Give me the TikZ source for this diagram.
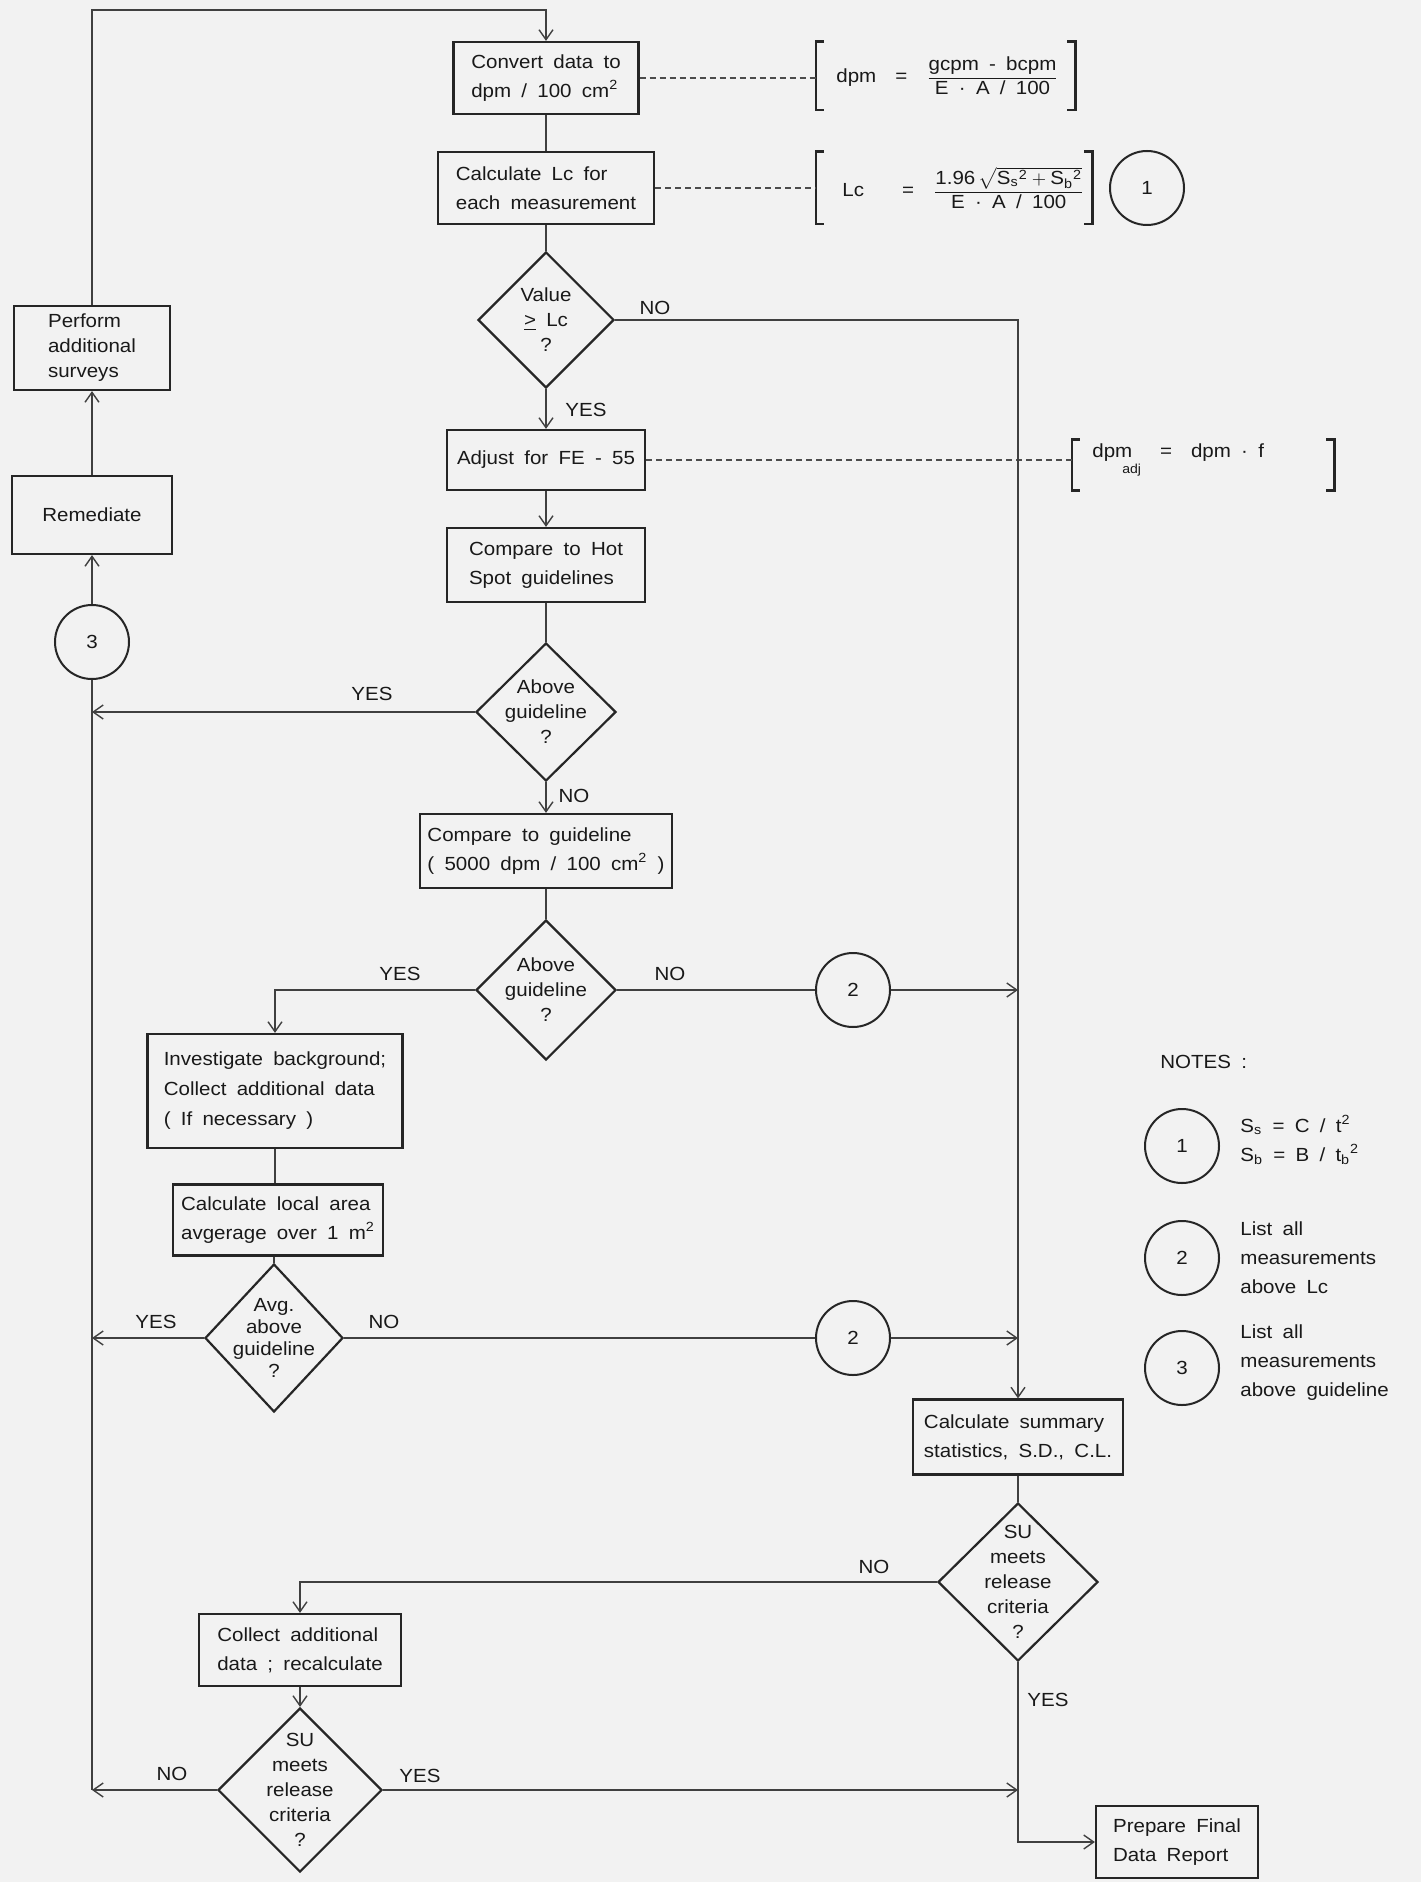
\documentclass[tikz,border=0pt]{standalone}
\usepackage{fontspec}
\usepackage{amsmath}
\setmainfont{Liberation Sans}[FakeStretch=1.08,WordSpace=1.8]
\usetikzlibrary{arrows.meta,shapes.geometric,calc}
\newcommand\bxfnt{\fontsize{9.5}{14.5}\selectfont}
\newcommand\dfnt{\fontsize{9.5}{12.5}\selectfont}
\begin{document}
\begin{tikzpicture}[x=0.5pt,y=-0.5pt,
  box/.style={draw=black!85, line width=1.1pt, align=left, font=\bxfnt, text=black!90, inner sep=3pt},
  dia/.style={draw=black!85, diamond, aspect=1, line width=1.1pt, inner sep=0pt},
  dtxt/.style={align=center, font=\dfnt, text=black!90, inner sep=0pt},
  circ/.style={draw=black!85, circle, line width=1pt, minimum size=37pt, inner sep=0pt, font=\bxfnt, text=black!90},
  con/.style={draw=black!75, line width=0.6pt},
  arr/.style={con, -{Straight Barb[length=5pt,width=7pt,line width=0.7pt]}},
  lbl/.style={font=\bxfnt, text=black!90, inner sep=0pt},
  ntxt/.style={font=\bxfnt, text=black!90, align=left, inner sep=0pt},
  dashl/.style={draw=black!70, line width=0.6pt, dash pattern=on 3pt off 2pt},
  brk/.style={draw=black!85, line width=1.1pt},
  brknode/.style={inner sep=0pt}
]
\fill[black!5] (0,0) rectangle (1421,1882);
\useasboundingbox (0,0) rectangle (1421,1882);

% main column
\node[box, minimum width=92.5pt, minimum height=36pt] (conv) at (546,78) {Convert data to\\dpm / 100 cm\textsuperscript{2}};
\node[box, minimum width=108pt, minimum height=36pt] (calc) at (546,188) {Calculate Lc for\\each measurement};
\node[dia, minimum width=68pt, minimum height=68pt] (d1) at (546,320) {};
\node[dtxt] (d1t) at (d1) {Value\\\underline{>} Lc\\?};
\node[box, minimum width=99pt, minimum height=30pt] (adj) at (546,460) {Adjust for FE - 55};
\node[box, minimum width=99pt, minimum height=37pt] (hot) at (546,565) {Compare to Hot\\Spot guidelines};
\node[dia, minimum width=70pt, minimum height=69pt] (d2) at (546,712) {};
\node[dtxt] (d2t) at (d2) {Above\\guideline\\?};
\node[box, minimum width=126pt, minimum height=37pt] (cmp) at (546,851) {Compare to guideline\\( 5000 dpm / 100 cm\textsuperscript{2} )};
\node[dia, minimum width=70pt, minimum height=70pt] (d3) at (546,990) {};
\node[dtxt] (d3t) at (d3) {Above\\guideline\\?};

% left-middle column
\node[box, minimum width=127.5pt, minimum height=57pt, font=\fontsize{9.5}{15}\selectfont] (inv) at (275,1091) {Investigate background;\\Collect additional data\\( If necessary )};
\node[box, minimum width=105pt, minimum height=35.5pt] (loc) at (278,1220) {Calculate local area\\avgerage over 1 m\textsuperscript{2}};
\node[dia, minimum width=69pt, minimum height=74pt] (d4) at (274,1338) {};
\node[dtxt, font=\fontsize{9.5}{11}\selectfont] (d4t) at (d4) {Avg.\\above\\guideline\\?};

% right column
\node[box, minimum width=105pt, minimum height=37.5pt] (sum) at (1018,1437) {Calculate summary\\statistics, S.D., C.L.};
\node[dia, minimum width=80pt, minimum height=79pt] (d5) at (1018,1582) {};
\node[dtxt] (d5t) at (d5) {SU\\meets\\release\\criteria\\?};
\node[box, minimum width=81pt, minimum height=36pt] (prep) at (1177,1842) {Prepare Final\\Data Report};

% bottom left
\node[box, minimum width=101pt, minimum height=36pt] (col) at (300,1650) {Collect additional\\data ; recalculate};
\node[dia, minimum width=82pt, minimum height=82pt] (d6) at (300,1790) {};
\node[dtxt] (d6t) at (d6) {SU\\meets\\release\\criteria\\?};

% far left
\node[box, minimum width=78pt, minimum height=42pt, font=\fontsize{9.5}{12.5}\selectfont] (perf) at (92,348) {Perform\\additional\\surveys};
\node[box, minimum width=80pt, minimum height=39pt] (rem) at (92,515) {Remediate};
\node[circ] (c3) at (92,642) {3};

% connector circles
\node[circ] (c2a) at (853,990) {2};
\node[circ] (c2b) at (853,1338) {2};
\node[circ] (c1) at (1147,188) {1};

% formulas
\node[brknode, minimum width=129.5pt, minimum height=34pt] (b1) at (945.5,76) {};
\node[anchor=west, inner sep=0pt, font=\bxfnt, text=black!90] (f1) at (836,76) {dpm\quad=\quad$\dfrac{\text{gcpm - bcpm}}{\text{E · A / 100}}$};
\node[brknode, minimum width=138pt, minimum height=36pt] (b2) at (954,188) {};
\node[anchor=west, inner sep=0pt, font=\bxfnt, text=black!90] (f2) at (842,188) {Lc\qquad=\quad$\dfrac{\text{1.96}\,\sqrt{\text{S}_\text{s}{}^\text{2}+\text{S}_\text{b}{}^\text{2}}}{\text{E · A / 100}}$};
\node[brknode, minimum width=131pt, minimum height=25pt] (b3) at (1203,465) {};
\node[anchor=west, inner sep=0pt, font=\bxfnt, text=black!90] (f3) at (1092,460) {dpm\hspace{-5pt}\raisebox{-8pt}{\fontsize{6.5}{7}\selectfont adj}\quad=\quad dpm · f};
\foreach \b in {b1,b2,b3}{
  \draw[brk] ([xshift=4pt]\b.north west) -- (\b.north west) -- (\b.south west) -- ([xshift=4pt]\b.south west);
  \draw[brk] ([xshift=-4pt]\b.north east) -- (\b.north east) -- (\b.south east) -- ([xshift=-4pt]\b.south east);
}
\draw[dashl] (conv.east) -- (b1.west |- conv.east);
\draw[dashl] (calc.east) -- (b2.west |- calc.east);
\draw[dashl] (adj.east) -- (b3.west |- adj.east);

% notes
\node[lbl, anchor=west] (notes) at (1160,1062) {NOTES :};
\node[circ] (n1) at (1182,1146) {1};
\node[ntxt, anchor=west] (n1t) at (1240,1140) {S$_\text{s}$ = C / t$^\text{2}$\\S$_\text{b}$ = B / t$_\text{b}{}^\text{2}$};
\node[circ] (n2) at (1182,1258) {2};
\node[ntxt, anchor=west] (n2t) at (1240,1258) {List all\\measurements\\above Lc};
\node[circ] (n3) at (1182,1368) {3};
\node[ntxt, anchor=west] (n3t) at (1240,1363) {List all\\measurements\\above guideline};

% connectors
\coordinate (top) at (92,10);
\draw[arr] (perf.north) -- (top) -| (conv.north);
\draw[arr] (rem.north) -- (perf.south);
\draw[arr] (c3.north) -- (rem.south);
\draw[con] (c3.south) -- (c3.south |- d6.west);
\draw[con] (conv.south) -- (calc.north);
\draw[con] (calc.south) -- (d1.north);
\draw[arr] (d1.east) -| (sum.north);
\draw[arr] (d1.south) -- (adj.north);
\draw[arr] (adj.south) -- (hot.north);
\draw[con] (hot.south) -- (d2.north);
\draw[arr] (d2.west) -- (d2.west -| c3.center);
\draw[arr] (d2.south) -- (cmp.north);
\draw[con] (cmp.south) -- (d3.north);
\draw[arr] (d3.west) -| (inv.north);
\draw[con] (d3.east) -- (c2a.west);
\draw[arr] (c2a.east) -- (c2a.east -| sum.north);
\draw[con] (inv.south) -- (inv.south |- loc.north);
\draw[con] (loc.south -| d4.north) -- (d4.north);
\draw[arr] (d4.west) -- (d4.west -| c3.center);
\draw[con] (d4.east) -- (c2b.west);
\draw[arr] (c2b.east) -- (c2b.east -| sum.north);
\draw[con] (sum.south) -- (d5.north);
\draw[arr] (d5.west) -| (col.north);
\draw[arr] (d5.south) |- (prep.west);
\draw[arr] (col.south) -- (d6.north);
\draw[arr] (d6.west) -- (d6.west -| c3.center);
\draw[arr] (d6.east) -- (d6.east -| sum.north);

% labels
\node[lbl] (l1) at (655,308) {NO};
\node[lbl] (l2) at (586,410) {YES};
\node[lbl] (l3) at (372,694) {YES};
\node[lbl] (l4) at (574,796) {NO};
\node[lbl] (l5) at (400,974) {YES};
\node[lbl] (l6) at (670,974) {NO};
\node[lbl] (l7) at (156,1322) {YES};
\node[lbl] (l8) at (384,1322) {NO};
\node[lbl] (l9) at (874,1567) {NO};
\node[lbl] (l10) at (1048,1700) {YES};
\node[lbl] (l11) at (172,1774) {NO};
\node[lbl] (l12) at (420,1776) {YES};
\end{tikzpicture}
\end{document}
